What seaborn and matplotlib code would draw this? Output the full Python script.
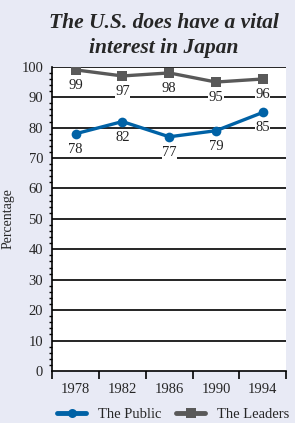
import matplotlib
matplotlib.use("Agg")
import matplotlib.pyplot as plt
import seaborn as sns
import pandas as pd
from matplotlib.ticker import MultipleLocator, FixedLocator
from matplotlib.lines import Line2D

years = ["1978", "1982", "1986", "1990", "1994"]
public = [78, 82, 77, 79, 85]
leaders = [99, 97, 98, 95, 96]
series_names = ["The Public", "The Leaders"]
colors = {"The Public": "#0062A6", "The Leaders": "#595959"}

rows = []
for name, vals in zip(series_names, [public, leaders]):
    for i, (y, v) in enumerate(zip(years, vals)):
        rows.append({"idx": i, "year": y, "value": v, "series": name})
df = pd.DataFrame(rows)

sns.set_style("white")
plt.rcParams["font.family"] = ["Liberation Serif", "DejaVu Serif"]

bg = "#E8EAF5"
fig = plt.figure(figsize=(2.95, 4.23), dpi=100, facecolor=bg)
ax = fig.add_axes([0.177, 0.123, 0.793, 0.719])
ax.set_facecolor("white")

sns.lineplot(data=df, x="idx", y="value", hue="series", style="series",
             markers={"The Public": "o", "The Leaders": "s"}, dashes=False,
             palette=colors, linewidth=2.4, markersize=7, markeredgewidth=0,
             ax=ax, legend=False, zorder=5)

for yv in range(10, 101, 10):
    ax.axhline(yv, color="black", lw=1.2, zorder=2)

for name, vals in zip(series_names, [public, leaders]):
    for i, v in enumerate(vals):
        ax.annotate(str(v), (i, v), xytext=(0, -6.5), textcoords="offset points",
                    ha="center", va="top", fontsize=10.5, color="#222222",
                    zorder=6,
                    bbox=dict(boxstyle="square,pad=0.02", fc="white", ec="none"))

ax.set_xlim(-0.5, 4.5)
ax.set_ylim(0, 100)
ax.set_xticks(range(len(years)))
ax.set_xticklabels(years, fontsize=10.5)
ax.xaxis.set_minor_locator(FixedLocator([-0.5, 0.5, 1.5, 2.5, 3.5, 4.5]))
ax.tick_params(axis="x", which="major", length=0, pad=9)
ax.tick_params(axis="x", which="minor", length=6, width=1.2, direction="out", color="black", bottom=True)
ax.yaxis.set_major_locator(MultipleLocator(10))
ax.yaxis.set_minor_locator(MultipleLocator(2))
ax.tick_params(axis="y", which="major", length=5.5, width=1.2, direction="out", labelsize=10.5, pad=1, color="black")
ax.tick_params(axis="y", which="minor", length=2.5, width=1.0, direction="out", color="black", left=True)

for s in ["top", "right"]:
    ax.spines[s].set_visible(False)
ax.spines["left"].set_color("black")
ax.spines["left"].set_linewidth(1.2)
ax.spines["bottom"].set_color("black")
ax.spines["bottom"].set_linewidth(1.2)

ax.set_xlabel("")
ax.set_ylabel("Percentage", fontsize=10, labelpad=5)
ax.set_title("The U.S. does have a vital\ninterest in Japan", fontsize=15.5,
             fontweight="bold", fontstyle="italic", pad=10, linespacing=1.3, x=0.478)

handles = [Line2D([], [], color=colors["The Public"], marker="o", lw=3.5, markersize=6.5, markeredgewidth=0),
           Line2D([], [], color=colors["The Leaders"], marker="s", lw=3.5, markersize=6.5, markeredgewidth=0)]
fig.legend(handles, series_names, loc="lower center", bbox_to_anchor=(0.587, -0.027),
           ncol=2, frameon=False, fontsize=10.5, handlelength=2.0, columnspacing=1.0,
           handletextpad=0.8)

fig.savefig("out.png", dpi=100, facecolor=bg)
